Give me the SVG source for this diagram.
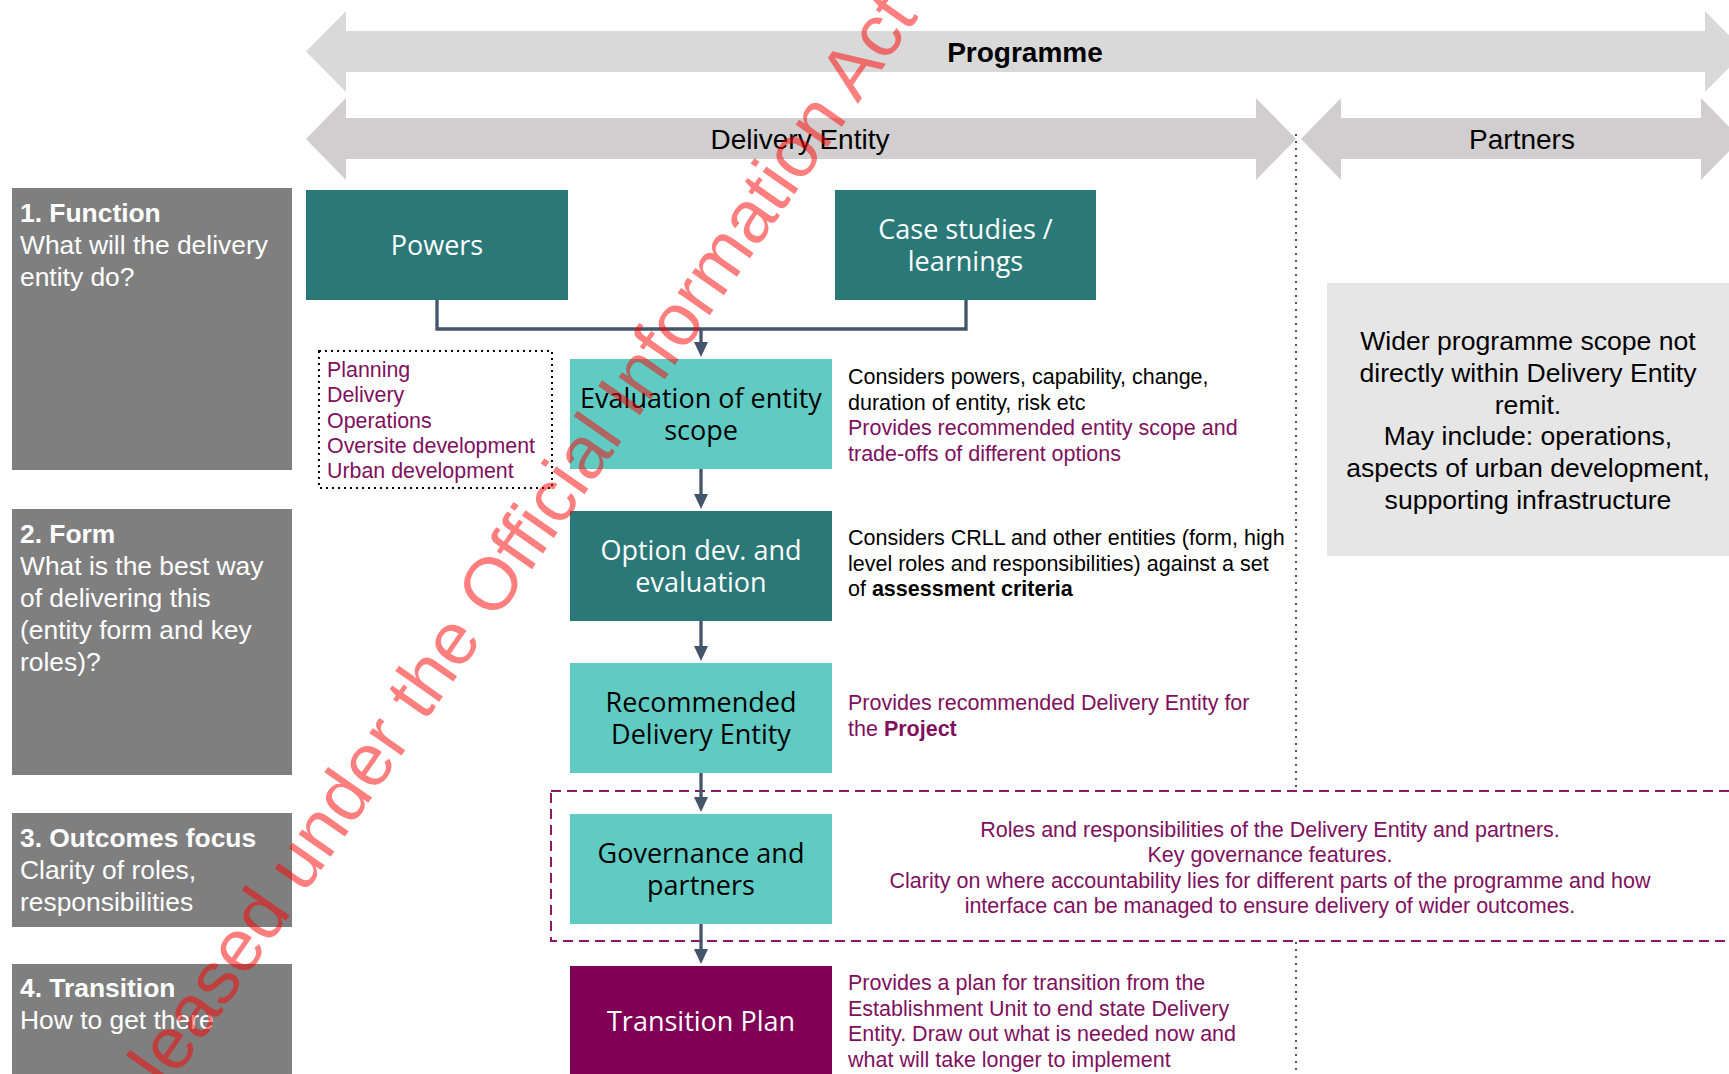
<svg xmlns="http://www.w3.org/2000/svg" width="1729" height="1074" viewBox="0 0 1729 1074">
  <style>
    .band-prog { fill: #D9D9D9; }
    .band { fill: #D0CECE; }
    .band-label { font-family: "Liberation Sans", Arial, sans-serif; font-size: 28px; fill: #000; text-anchor: middle; }
    .stage { fill: #7F7F7F; }
    .stage-text { font-family: "Liberation Sans", Arial, sans-serif; font-size: 26.4px; fill: #FFFFFF; }
    .stage-text .hd { font-weight: bold; }
    .dark { fill: #2A7978; }
    .light { fill: #5FCBC2; }
    .plum { fill: #800055; }
    .box-label { font-family: "Open Sans", "Noto Sans", sans-serif; font-size: 27px; text-anchor: middle; }
    .on-dark { fill: #FFFFFF; }
    .on-light { fill: #000000; }
    .note { font-family: "Liberation Sans", Arial, sans-serif; font-size: 21.5px; }
    .list { font-size: 21.4px; }
    .note-black { fill: #000000; }
    .note-plum { fill: #80105E; }
    .b { font-weight: bold; }
    .wide-box { fill: #E6E6E6; }
    .wide-text { font-family: "Liberation Sans", Arial, sans-serif; font-size: 26.6px; fill: #000; text-anchor: middle; }
    .link { fill: none; stroke: #44546A; stroke-width: 3.3; }
    .divider { fill: none; stroke: #44546A; stroke-width: 2; stroke-dasharray: 2 5; }
    .scope-frame { fill: none; stroke: #000; stroke-width: 2; stroke-dasharray: 2 4; }
    .gov-frame { fill: #FFFFFF; stroke: #8B1A6B; stroke-width: 2; stroke-dasharray: 10 6; }
    .stamp { font-family: "Liberation Sans", Arial, sans-serif; font-size: 74px; fill: #FF0000; fill-opacity: 0.5; text-anchor: middle; }
  </style>
  <defs>
    <marker id="head" markerUnits="userSpaceOnUse" markerWidth="16" markerHeight="16" refX="3" refY="7" orient="auto">
      <path d="M0,0 L15,7 L0,14 z" fill="#44546A"/>
    </marker>
  </defs>

  <rect width="1729" height="1074" fill="#FFFFFF"/>

  <!-- scope bands across the top -->
  <g id="band-programme">
    <polygon class="band-prog" points="306,51.5 346,11 346,31 1705,31 1705,11 1745,51.5 1705,92 1705,72 346,72 346,92"/>
    <text class="band-label" x="1025" y="62" font-weight="bold">Programme</text>
  </g>
  <g id="band-delivery-entity">
    <polygon class="band" points="306,139 346,98 346,118 1256,118 1256,98 1296,139 1256,180 1256,159 346,159 346,180"/>
    <text class="band-label" x="800" y="149">Delivery Entity</text>
  </g>
  <g id="band-partners">
    <polygon class="band" points="1301,139 1341,98 1341,118 1701,118 1701,98 1741,139 1701,180 1701,159 1341,159 1341,180"/>
    <text class="band-label" x="1522" y="149">Partners</text>
  </g>

  <!-- boundary between delivery entity and partners -->
  <g id="boundary">
    <line class="divider" x1="1296" y1="134" x2="1296" y2="790"/>
    <line class="divider" x1="1296" y1="942" x2="1296" y2="1074"/>
  </g>

  <!-- governance frame -->
  <g id="governance-frame">
    <rect class="gov-frame" x="551" y="791" width="1200" height="150"/>
  </g>

  <!-- stage column -->
  <g id="stage-function">
    <rect class="stage" x="12" y="188" width="280" height="282"/>
    <text class="stage-text" x="20" y="222"><tspan class="hd">1. Function</tspan><tspan x="20" dy="32">What will the delivery</tspan><tspan x="20" dy="32">entity do?</tspan></text>
  </g>
  <g id="stage-form">
    <rect class="stage" x="12" y="509" width="280" height="266"/>
    <text class="stage-text" x="20" y="543"><tspan class="hd">2. Form</tspan><tspan x="20" dy="32">What is the best way</tspan><tspan x="20" dy="32">of delivering this</tspan><tspan x="20" dy="32">(entity form and key</tspan><tspan x="20" dy="32">roles)?</tspan></text>
  </g>
  <g id="stage-outcomes">
    <rect class="stage" x="12" y="813" width="280" height="114"/>
    <text class="stage-text" x="20" y="847"><tspan class="hd">3. Outcomes focus</tspan><tspan x="20" dy="32">Clarity of roles,</tspan><tspan x="20" dy="32">responsibilities</tspan></text>
  </g>
  <g id="stage-transition">
    <rect class="stage" x="12" y="964" width="280" height="120"/>
    <text class="stage-text" x="20" y="997"><tspan class="hd">4. Transition</tspan><tspan x="20" dy="32">How to get there</tspan></text>
  </g>

  <!-- inputs -->
  <g id="powers">
    <rect class="dark" x="306" y="190" width="262" height="110"/>
    <text class="box-label on-dark" x="437" y="255">Powers</text>
  </g>
  <g id="case-studies">
    <rect class="dark" x="835" y="190" width="261" height="110"/>
    <text class="box-label on-dark" x="965.5" y="239"><tspan>Case studies /</tspan><tspan x="965.5" dy="32">learnings</tspan></text>
  </g>

  <!-- function areas -->
  <g id="function-list">
    <rect class="scope-frame" x="319" y="351" width="233" height="137"/>
    <text class="note list note-plum" x="327" y="377"><tspan>Planning</tspan><tspan x="327" dy="25.3">Delivery</tspan><tspan x="327" dy="25.3">Operations</tspan><tspan x="327" dy="25.3">Oversite development</tspan><tspan x="327" dy="25.3">Urban development</tspan></text>
  </g>

  <!-- main flow -->
  <g id="evaluation">
    <rect class="light" x="570" y="359" width="262" height="110"/>
    <text class="box-label on-light" x="701" y="408"><tspan>Evaluation of entity</tspan><tspan x="701" dy="32">scope</tspan></text>
    <text class="note" x="848" y="384"><tspan class="note-black">Considers powers, capability, change,</tspan><tspan class="note-black" x="848" dy="25.5">duration of entity, risk etc</tspan><tspan class="note-plum" x="848" dy="25.5">Provides recommended entity scope and</tspan><tspan class="note-plum" x="848" dy="25.5">trade-offs of different options</tspan></text>
  </g>
  <g id="option-dev">
    <rect class="dark" x="570" y="511" width="262" height="110"/>
    <text class="box-label on-dark" x="701" y="560"><tspan>Option dev. and</tspan><tspan x="701" dy="32">evaluation</tspan></text>
    <text class="note note-black" x="848" y="545"><tspan>Considers CRLL and other entities (form, high</tspan><tspan x="848" dy="25.5">level roles and responsibilities) against a set</tspan><tspan x="848" dy="25.5">of <tspan class="b">assessment criteria</tspan></tspan></text>
  </g>
  <g id="recommended">
    <rect class="light" x="570" y="663" width="262" height="110"/>
    <text class="box-label on-light" x="701" y="712"><tspan>Recommended</tspan><tspan x="701" dy="32">Delivery Entity</tspan></text>
    <text class="note note-plum" x="848" y="710"><tspan>Provides recommended Delivery Entity for</tspan><tspan x="848" dy="26">the <tspan class="b">Project</tspan></tspan></text>
  </g>
  <g id="governance">
    <rect class="light" x="570" y="814" width="262" height="110"/>
    <text class="box-label on-light" x="701" y="863"><tspan>Governance and</tspan><tspan x="701" dy="32">partners</tspan></text>
    <text class="note note-plum" x="1270" y="837" text-anchor="middle"><tspan>Roles and responsibilities of the Delivery Entity and partners.</tspan><tspan x="1270" dy="25.3">Key governance features.</tspan><tspan x="1270" dy="25.3">Clarity on where accountability lies for different parts of the programme and how</tspan><tspan x="1270" dy="25.3">interface can be managed to ensure delivery of wider outcomes.</tspan></text>
  </g>
  <g id="transition-plan">
    <rect class="plum" x="570" y="966" width="262" height="110"/>
    <text class="box-label on-dark" x="701" y="1031">Transition Plan</text>
    <text class="note note-plum" x="848" y="990"><tspan>Provides a plan for transition from the</tspan><tspan x="848" dy="25.6">Establishment Unit to end state Delivery</tspan><tspan x="848" dy="25.6">Entity. Draw out what is needed now and</tspan><tspan x="848" dy="25.6">what will take longer to implement</tspan></text>
  </g>

  <!-- partner side -->
  <g id="wider-programme">
    <rect class="wide-box" x="1327" y="283" width="402" height="273"/>
    <text class="wide-text" x="1528" y="350"><tspan>Wider programme scope not</tspan><tspan x="1528" dy="31.8">directly within Delivery Entity</tspan><tspan x="1528" dy="31.8">remit.</tspan><tspan x="1528" dy="31.8">May include: operations,</tspan><tspan x="1528" dy="31.8">aspects of urban development,</tspan><tspan x="1528" dy="31.8">supporting infrastructure</tspan></text>
  </g>

  <!-- connectors -->
  <g id="connectors">
    <path class="link" d="M437,300 V329 H966 V300"/>
    <path class="link" d="M701,329 V345" marker-end="url(#head)"/>
    <path class="link" d="M701,469 V497" marker-end="url(#head)"/>
    <path class="link" d="M701,621 V649" marker-end="url(#head)"/>
    <path class="link" d="M701,773 V800" marker-end="url(#head)"/>
    <path class="link" d="M701,924 V952" marker-end="url(#head)"/>
  </g>

  <!-- release stamp -->
  <g id="stamp">
    <text class="stamp" transform="translate(516,592) rotate(-55)">Released under the Official Information Act</text>
  </g>
</svg>
